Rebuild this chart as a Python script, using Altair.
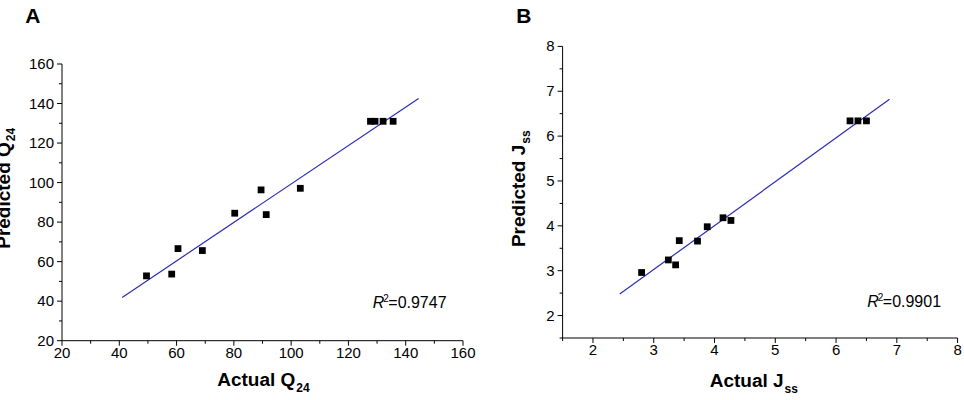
import altair as alt
import pandas as pd

FONT = "Liberation Sans"
LINE_COLOR = "#2b2bb5"

# ---------------- Panel A data ----------------
a_actual = [49.5, 58.3, 60.5, 69.0, 80.3, 89.5, 91.3, 103.2, 127.7, 129.3, 132.1, 135.6]
a_pred = [52.8, 53.7, 66.6, 65.6, 84.5, 96.3, 83.8, 97.1, 131.0, 131.0, 131.0, 131.0]
a_fit_actual = [41.0, 144.5]
a_fit_pred = [41.9, 142.6]
a_x_domain = [20, 160]
a_y_domain = [20, 168.9]
a_y_span = [20, 160]
a_major = [20, 40, 60, 80, 100, 120, 140, 160]
a_minor = [30, 50, 70, 90, 110, 130, 150]
a_r2 = "=0.9747"

# ---------------- Panel B data ----------------
b_actual = [2.80, 3.24, 3.36, 3.42, 3.72, 3.88, 4.14, 4.27, 6.23, 6.36, 6.50]
b_pred = [2.96, 3.24, 3.13, 3.67, 3.66, 3.98, 4.18, 4.12, 6.34, 6.34, 6.34]
b_fit_actual = [2.44, 6.88]
b_fit_pred = [2.48, 6.82]
b_domain = [1.5, 8]
b_y_span = [1.5, 8]
b_major = [2, 3, 4, 5, 6, 7, 8]
b_minor = [1.5, 2.5, 3.5, 4.5, 5.5, 6.5, 7.5]
b_r2 = "=0.9901"


def txt(s, x, y, size, weight="normal", style="normal", align="left", angle=0, dx=0, dy=0):
    return alt.Chart(pd.DataFrame({"t": [s]})).mark_text(
        font=FONT, fontSize=size, fontWeight=weight, fontStyle=style,
        align=align, baseline="alphabetic", angle=angle, dx=dx, dy=dy, color="black",
    ).encode(x=alt.value(x), y=alt.value(y), text="t:N")


def panel(actual, pred, fit_x, fit_y, xdom, ydom, major, minor, w, h, y_span,
          label, ltxt, xt_main, xt_sub, xt_pos, yt_main, yt_sub, yt_pos, r2, r2_pos):
    pts = pd.DataFrame({"actual": actual, "pred": pred})
    fit = pd.DataFrame({"actual": fit_x, "pred": fit_y})
    mj = pd.DataFrame({"v": major})
    mn = pd.DataFrame({"v": minor})
    xs = alt.Scale(domain=xdom, nice=False, zero=False)
    ys = alt.Scale(domain=ydom, nice=False, zero=False)

    points = alt.Chart(pts).mark_square(size=46, color="black", opacity=1, filled=True).encode(
        x=alt.X("actual:Q", scale=xs, axis=None),
        y=alt.Y("pred:Q", scale=ys, axis=None),
    )
    line = alt.Chart(fit).mark_line(color=LINE_COLOR, strokeWidth=1.2).encode(
        x=alt.X("actual:Q", scale=xs, axis=None),
        y=alt.Y("pred:Q", scale=ys, axis=None),
    )
    rule = dict(color="black", strokeWidth=1)
    # axis lines
    x_dom = alt.Chart(pd.DataFrame({"lo": [xdom[0]], "hi": [xdom[1]]})).mark_rule(**rule).encode(
        x=alt.X("lo:Q", scale=xs, axis=None), x2="hi:Q", y=alt.value(h)
    )
    y_dom = alt.Chart(pd.DataFrame({"lo": [y_span[0]], "hi": [y_span[1]]})).mark_rule(**rule).encode(
        y=alt.Y("lo:Q", scale=ys, axis=None), y2="hi:Q", x=alt.value(0)
    )
    # ticks
    maj_x = alt.Chart(mj).mark_rule(**rule).encode(
        x=alt.X("v:Q", scale=xs, axis=None), y=alt.value(h), y2=alt.value(h + 5)
    )
    maj_y = alt.Chart(mj).mark_rule(**rule).encode(
        y=alt.Y("v:Q", scale=ys, axis=None), x=alt.value(-5), x2=alt.value(0)
    )
    min_x = alt.Chart(mn).mark_rule(**rule).encode(
        x=alt.X("v:Q", scale=xs, axis=None), y=alt.value(h), y2=alt.value(h + 3)
    )
    min_y = alt.Chart(mn).mark_rule(**rule).encode(
        y=alt.Y("v:Q", scale=ys, axis=None), x=alt.value(-3), x2=alt.value(0)
    )
    # tick labels
    lab_x = alt.Chart(mj).mark_text(font=FONT, fontSize=15, color="black", align="center",
                                    baseline="top").encode(
        x=alt.X("v:Q", scale=xs, axis=None), y=alt.value(h + 5), text=alt.Text("v:Q", format="~g")
    )
    lab_y = alt.Chart(mj).mark_text(font=FONT, fontSize=15, color="black", align="right",
                                    baseline="middle").encode(
        y=alt.Y("v:Q", scale=ys, axis=None), x=alt.value(-8), text=alt.Text("v:Q", format="~g")
    )

    layers = [line, points, x_dom, y_dom, maj_x, maj_y, min_x, min_y, lab_x, lab_y,
              txt(label, ltxt[0], ltxt[1], 21, weight="bold"),
              txt(xt_main, xt_pos[0], xt_pos[1], 19, weight="bold", align="right"),
              txt(xt_sub, xt_pos[0] + 1, xt_pos[1], 12, weight="bold", align="left", dy=6),
              txt(yt_main, yt_pos[0], yt_pos[1], 19, weight="bold", align="right", angle=270),
              txt(yt_sub, yt_pos[0], yt_pos[1] - 1, 12, weight="bold", align="left", angle=270, dy=5),
              txt("R", r2_pos[0], r2_pos[1], 16, style="italic"),
              txt("2", r2_pos[0] + 10.5, r2_pos[1], 10, dy=-6),
              txt(r2, r2_pos[0] + 15.5, r2_pos[1], 16)]
    return alt.layer(*layers).properties(width=w, height=h)


chart_a = panel(
    a_actual, a_pred, a_fit_actual, a_fit_pred, a_x_domain, a_y_domain, a_major, a_minor,
    401, 294.3, a_y_span,
    "A", (-36.7, -23.7),
    "Actual Q", "24", (233.3, 340.0),
    "Predicted Q", "24", (-51.7, 95.8),
    a_r2, (310.8, 261.6),
)

chart_b = panel(
    b_actual, b_pred, b_fit_actual, b_fit_pred, b_domain, b_domain, b_major, b_minor,
    395, 291.6, b_y_span,
    "B", (-46.3, -23.7),
    "Actual J", "ss", (221.0, 341.0),
    "Predicted J", "ss", (-37.3, 98.3),
    b_r2, (304.7, 260.3),
)

base = alt.hconcat(chart_a, chart_b, spacing=99.6, bounds="flush").configure_view(stroke=None)

try:
    chart = base.properties(padding={"left": -5, "top": 5.4, "right": 0, "bottom": 0})
    chart.save("out.html", embed_options={"renderer": "svg", "actions": False})
except Exception:
    chart = base.properties(padding={"left": 0, "top": 5.4, "right": 0, "bottom": 0})
    chart.save("out.html", embed_options={"renderer": "svg", "actions": False})
